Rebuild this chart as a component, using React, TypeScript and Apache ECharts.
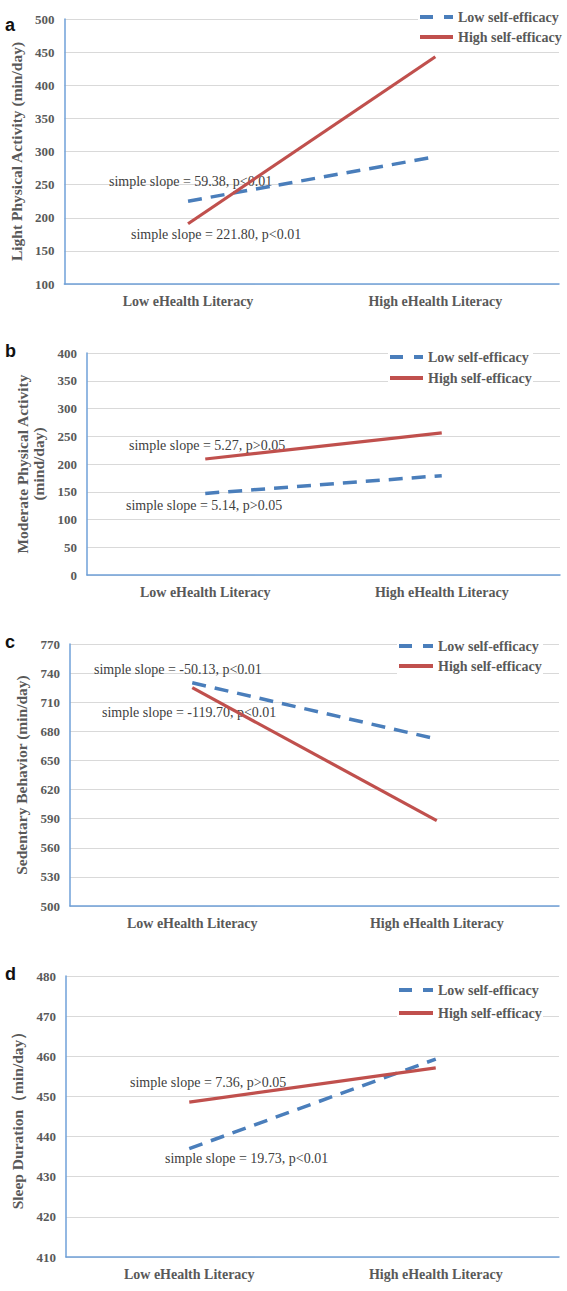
import React, { useEffect, useRef } from "react";
import * as echarts from "echarts";

// Categories on every x axis
const literacyLevels = ["Low eHealth Literacy", "High eHealth Literacy"];
const seriesNames = ["Low self-efficacy", "High self-efficacy"];

// a: Light physical activity (min/day)
const lpaLowSE = [225, 292];
const lpaHighSE = [191, 443];
// b: Moderate physical activity (mind/day)
const mpaLowSE = [147, 179];
const mpaHighSE = [209, 256];
// c: Sedentary behavior (min/day)
const sbLowSE = [730, 672];
const sbHighSE = [725, 588];
// d: Sleep duration (min/day)
const sdLowSE = [437, 459.3];
const sdHighSE = [448.6, 457.1];

// Y axis ranges per panel: [min, max, interval]
const lpaRange = [100, 500, 50];
const mpaRange = [0, 400, 50];
const sbRange = [500, 770, 30];
const sdRange = [410, 480, 10];

const yTitles = [
  "Light Physical Activity (min/day)",
  "Moderate Physical Activity\n(mind/day)",
  "Sedentary Behavior (min/day)",
  "Sleep Duration\uFF08min/day\uFF09",
];

const slopeNotes = [
  ["simple slope = 59.38, p<0.01", "simple slope = 221.80, p<0.01"],
  ["simple slope = 5.27, p>0.05", "simple slope = 5.14, p>0.05"],
  ["simple slope = -50.13, p<0.01", "simple slope = -119.70, p<0.01"],
  ["simple slope = 7.36, p>0.05", "simple slope = 19.73, p<0.01"],
];
const panelLetters = ["a", "b", "c", "d"];

const BLUE = "#4a7ebb";
const RED = "#c0504d";
const AXIS_BLUE = "#6fa0d8";
const GRID_GRAY = "#d9d9d9";
const LABEL_GRAY = "#595959";
const SERIF = '"Liberation Serif", "Times New Roman", serif';
const DASH = [14, 9];

export default function App() {
  const ref = useRef<HTMLDivElement>(null);

  useEffect(() => {
    if (!ref.current) return;
    const chart = echarts.init(ref.current, undefined, { renderer: "svg" });

    const grids = [
      { left: 64, top: 19, width: 495, height: 265 },
      { left: 87, top: 353, width: 473, height: 222 },
      { left: 70, top: 644, width: 489, height: 262 },
      { left: 66, top: 976, width: 493, height: 281 },
    ];
    const ranges = [lpaRange, mpaRange, sbRange, sdRange];
    const lowData = [lpaLowSE, mpaLowSE, sbLowSE, sdLowSE];
    const highData = [lpaHighSE, mpaHighSE, sbHighSE, sdHighSE];
    const nameGaps = [35.5, 31.5, 35.5, 35];
    // legend key: line start x, line end x, row y positions
    const legendPos = [
      { x1: 420, x2: 453, ys: [17, 37] },
      { x1: 390, x2: 423, ys: [357, 378] },
      { x1: 399, x2: 433, ys: [646, 666] },
      { x1: 399, x2: 433, ys: [990, 1013] },
    ];
    // annotation anchor points (left edge, vertical middle)
    const notePos = [
      [[109, 181], [131, 234]],
      [[129, 445], [126, 505]],
      [[94, 669], [102, 712]],
      [[130, 1082], [165, 1158]],
    ];
    const letterPos = [[5, 16], [5, 342], [5, 633], [5, 965]];

    const xAxis = grids.map((_, i) => ({
      type: "category",
      gridIndex: i,
      data: literacyLevels,
      boundaryGap: true,
      axisLine: { show: true, lineStyle: { color: AXIS_BLUE, width: 1.5 } },
      axisTick: { show: false },
      axisLabel: {
        margin: 10,
        color: LABEL_GRAY,
        fontFamily: SERIF,
        fontWeight: "bold",
        fontSize: 14,
      },
      splitLine: { show: false },
    }));

    const yAxis = grids.map((_, i) => ({
      type: "value",
      gridIndex: i,
      min: ranges[i][0],
      max: ranges[i][1],
      interval: ranges[i][2],
      name: yTitles[i],
      nameLocation: "middle",
      nameRotate: 90,
      nameGap: nameGaps[i],
      nameTextStyle: {
        color: LABEL_GRAY,
        fontFamily: SERIF,
        fontWeight: "bold",
        fontSize: 15.5,
        lineHeight: 16,
      },
      axisLine: { show: true, lineStyle: { color: AXIS_BLUE, width: 1.5 } },
      axisTick: { show: false },
      axisLabel: {
        margin: 10,
        color: LABEL_GRAY,
        fontFamily: SERIF,
        fontWeight: "bold",
        fontSize: 13,
      },
      splitLine: { show: true, lineStyle: { color: GRID_GRAY, width: 1 } },
    }));

    const series: any[] = [];
    grids.forEach((_, i) => {
      series.push({
        type: "line",
        name: seriesNames[0],
        xAxisIndex: i,
        yAxisIndex: i,
        data: lowData[i],
        symbol: "none",
        z: 3,
        lineStyle: { color: BLUE, width: 3.5, type: DASH },
        itemStyle: { color: BLUE },
      });
      series.push({
        type: "line",
        name: seriesNames[1],
        xAxisIndex: i,
        yAxisIndex: i,
        data: highData[i],
        symbol: "none",
        z: 3,
        lineStyle: { color: RED, width: 3.2 },
        itemStyle: { color: RED },
      });
    });

    const graphic: any[] = [];
    // legend box and keys drawn per panel
    legendPos.forEach((p) => {
      graphic.push({
        type: "rect",
        z: 5,
        shape: {
          x: p.x1 - 2,
          y: p.ys[0] - 9,
          width: p.x2 - p.x1 + 112,
          height: p.ys[1] - p.ys[0] + 18,
        },
        style: { fill: "#ffffff" },
      });
      p.ys.forEach((y, j) => {
        graphic.push({
          type: "line",
          z: 6,
          shape: { x1: p.x1, y1: y, x2: p.x2, y2: y },
          style: {
            stroke: j === 0 ? BLUE : RED,
            lineWidth: 3.8,
            lineDash: j === 0 ? [13, 11] : null,
          },
        });
        graphic.push({
          type: "text",
          z: 6,
          x: p.x2 + 5,
          y,
          style: {
            text: seriesNames[j],
            fill: LABEL_GRAY,
            font: `bold 14px ${SERIF}`,
            align: "left",
            verticalAlign: "middle",
          },
        });
      });
    });
    notePos.forEach((pair, i) => {
      pair.forEach((pos, j) => {
        graphic.push({
          type: "text",
          z: 1,
          x: pos[0],
          y: pos[1],
          style: {
            text: slopeNotes[i][j],
            fill: "#404040",
            font: `14px ${SERIF}`,
            align: "left",
            verticalAlign: "middle",
          },
        });
      });
    });
    letterPos.forEach((pos, i) => {
      graphic.push({
        type: "text",
        x: pos[0],
        y: pos[1],
        style: {
          text: panelLetters[i],
          fill: "#111",
          font: 'bold 18px "Liberation Sans", Arial, sans-serif',
          align: "left",
          verticalAlign: "alphabetic",
        },
      });
    });

    chart.setOption({
      animation: false,
      backgroundColor: "#ffffff",
      grid: grids.map((g) => ({ ...g, containLabel: false })),
      xAxis,
      yAxis,
      series,
      graphic,
    });

    return () => chart.dispose();
  }, []);

  return (
    <div
      ref={ref}
      style={{ position: "absolute", left: 0, top: 0, width: 567, height: 1291 }}
    />
  );
}
